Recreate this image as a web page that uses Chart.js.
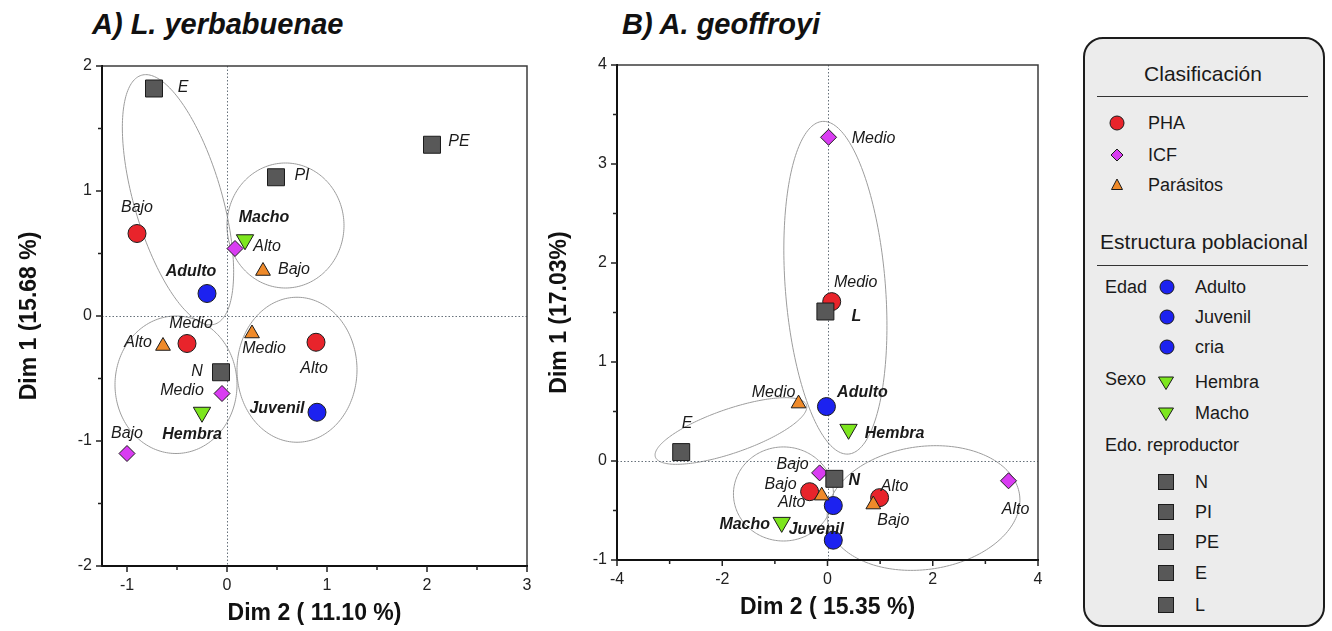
<!DOCTYPE html>
<html lang="es">
<head>
<meta charset="utf-8">
<title>ACM – L. yerbabuenae y A. geoffroyi</title>
<script src="https://cdn.jsdelivr.net/npm/chart.js@4.4.1/dist/chart.umd.min.js"></script>
<style>
  html, body { margin: 0; padding: 0; background: #fff; }
  #page { position: relative; width: 1332px; height: 631px; overflow: hidden;
          font-family: "Liberation Sans", Arial, sans-serif; color: #1a1a1a; }
  canvas { position: absolute; top: 0; }
  .abs { position: absolute; white-space: nowrap; line-height: 1; transform: translateY(-50%); }
  .panel-title { font-weight: bold; font-style: italic; font-size: 29px; color: #111; }
  #legend { position: absolute; left: 1083px; top: 37px; width: 242px; height: 590px;
            box-sizing: border-box; border: 2px solid #1c1c1c; border-radius: 20px; background: #ececec; }
  .lg { font-size: 18px; }
  .lh { font-size: 21px; transform: translate(-50%, -50%); }
  .rule { position: absolute; height: 0; border-top: 1.5px solid #333; }
  .mk { position: absolute; transform: translate(-50%, -50%); overflow: visible; }
</style>
</head>
<body>
<div id="page">
  <div class="abs panel-title" style="left:92px; top:24px;">A) L. yerbabuenae</div>
  <div class="abs panel-title" style="left:622px; top:24px;">B) A. geoffroyi</div>
  <canvas id="chartA" width="545" height="631" style="left:0px;"></canvas>
  <canvas id="chartB" width="520" height="631" style="left:545px;"></canvas>
  <div id="legend"></div>
</div>

<script>
const FONT = '"Liberation Sans", Arial, sans-serif';
const INK = '#1a1a1a';

// ---------- A) L. yerbabuenae : coordinates (Dim 2, Dim 1) ----------
const aPhaNames  = ['Bajo', 'Medio', 'Alto'];
const aPhaDim2   = [-0.90, -0.40, 0.89];
const aPhaDim1   = [0.66, -0.22, -0.21];
const aIcfNames  = ['Bajo', 'Medio', 'Alto'];
const aIcfDim2   = [-1.00, -0.05, 0.08];
const aIcfDim1   = [-1.10, -0.62, 0.54];
const aParNames  = ['Bajo', 'Medio', 'Alto'];
const aParDim2   = [0.36, 0.25, -0.64];
const aParDim1   = [0.36, -0.14, -0.24];
const aEdadNames = ['Adulto', 'Juvenil'];
const aEdadDim2  = [-0.20, 0.90];
const aEdadDim1  = [0.18, -0.77];
const aSexoNames = ['Hembra', 'Macho'];
const aSexoDim2  = [-0.25, 0.18];
const aSexoDim1  = [-0.77, 0.61];
const aRepNames  = ['N', 'PI', 'PE', 'E'];
const aRepDim2   = [-0.06, 0.49, 2.05, -0.73];
const aRepDim1   = [-0.45, 1.11, 1.37, 1.82];
// group ellipses: centre (Dim 2, Dim 1) and two semi-axis vectors
const aEllipses = [
  [-0.49, 0.93, -0.365, 0.996, 0.42, 0.10],
  [0.585, 0.724, 0.585, 0, 0, 0.50],
  [-0.51, -0.55, 0.61, 0, 0, 0.55],
  [0.70, -0.43, 0.60, 0, 0, 0.58]
];
const aTicksX = [-1, -0.5, 0, 0.5, 1, 1.5, 2, 2.5, 3];
const aTicksY = [-2, -1.5, -1, -0.5, 0, 0.5, 1, 1.5, 2];

// ---------- B) A. geoffroyi : coordinates (Dim 2, Dim 1) ----------
const bPhaNames  = ['Bajo', 'Medio', 'Alto'];
const bPhaDim2   = [-0.34, 0.08, 0.99];
const bPhaDim1   = [-0.31, 1.61, -0.37];
const bIcfNames  = ['Bajo', 'Medio', 'Alto'];
const bIcfDim2   = [-0.15, 0.02, 3.44];
const bIcfDim1   = [-0.12, 3.27, -0.20];
const bParNames  = ['Bajo', 'Medio', 'Alto'];
const bParDim2   = [0.87, -0.55, -0.11];
const bParDim1   = [-0.44, 0.58, -0.35];
const bEdadNames = ['Adulto', '', 'Juvenil'];
const bEdadDim2  = [-0.02, 0.11, 0.11];
const bEdadDim1  = [0.55, -0.45, -0.80];
const bSexoNames = ['Hembra', 'Macho'];
const bSexoDim2  = [0.40, -0.87];
const bSexoDim1  = [0.32, -0.62];
const bRepNames  = ['N', 'E', 'L'];
const bRepDim2   = [0.13, -2.78, -0.04];
const bRepDim1   = [-0.18, 0.09, 1.51];
const bEllipses = [
  [0.15, 1.75, -0.247, 1.68, 0.948, 0.039],
  [-1.835, 0.303, 1.435, 0.263, 0.137, -0.210],
  [-0.837, -0.333, 0.95, 0, 0, 0.475],
  [1.825, -0.475, 1.825, 0.131, 0.152, -0.616]
];
const bTicksX = [-4, -3, -2, -1, 0, 1, 2, 3, 4];
const bTicksY = [-1, -0.5, 0, 0.5, 1, 1.5, 2, 2.5, 3, 3.5, 4];

// ---------- label placement (pixel offsets from each marker) ----------
const aLabelPos = {
  pha:  [[0, -26], [4, -20], [-2, 26]],
  icf:  [[0, -20], [-40, -3], [32, -2]],
  par:  [[31, -1], [12, 15], [-25, -3]],
  edad: [[-16, -22], [-40, -4]],
  sexo: [[-10, 22], [19, -22]],
  rep:  [[-24, -1], [26, -2], [27, -3], [29, -1]]
};
const bLabelPos = {
  pha:  [[-29, -7], [24, -19], [15, -11]],
  icf:  [[-27, -8], [45, 1], [7, 29]],
  par:  [[20, 16], [-25, -11], [-30, 7]],
  edad: [[36, -14], [0, 0], [-17, -11]],
  sexo: [[46, 4], [-37, 2]],
  rep:  [[20, 2], [6, -29], [31, 5]]
};
const aRepBold = [false, false, false, false];
const bRepBold = [true, false, true];

// ---------- marker styles ----------
const STYLE = {
  pha:  { color: '#e8242b', shape: 'circle',   r: 9,  rot: 0,   order: 6, bold: false },
  edad: { color: '#1c22f0', shape: 'circle',   r: 9,  rot: 0,   order: 5, bold: true },
  sexo: { color: '#7de61e', shape: 'triangle', r: 10, rot: 180, order: 4, bold: true },
  icf:  { color: '#d93cf2', shape: 'rectRot',  r: 8,  rot: 0,   order: 3, bold: false },
  par:  { color: '#ef8a2a', shape: 'triangle', r: 8.5, rot: 0,  order: 2, bold: false },
  rep:  { color: '#585858', shape: 'rect',     r: 12, rot: 0,   order: 1, bold: false }
};

function series(key, names, dim2, dim1, pos, boldList) {
  const s = STYLE[key];
  return {
    label: key,
    data: dim2.map((v, i) => ({ x: v, y: dim1[i] })),
    pointStyle: s.shape,
    pointRadius: s.r,
    pointHoverRadius: s.r,
    pointRotation: s.rot,
    backgroundColor: s.color,
    borderColor: '#1b1b1b',
    borderWidth: 1,
    order: s.order,
    pointNames: names,
    namePos: pos,
    nameBold: boldList || names.map(() => s.bold)
  };
}

const decorPlugin = {
  id: 'panelDecor',
  beforeDatasetsDraw(chart, args, opts) {
    const { ctx, chartArea: ca, scales: { x, y } } = chart;
    ctx.save();
    // group ellipses
    ctx.strokeStyle = '#9c9c9c';
    ctx.lineWidth = 1;
    for (const e of opts.ellipses) {
      ctx.beginPath();
      for (let i = 0; i <= 200; i++) {
        const t = i / 200 * Math.PI * 2;
        const vx = e[0] + e[2] * Math.cos(t) + e[4] * Math.sin(t);
        const vy = e[1] + e[3] * Math.cos(t) + e[5] * Math.sin(t);
        const px = x.getPixelForValue(vx), py = y.getPixelForValue(vy);
        if (i === 0) ctx.moveTo(px, py); else ctx.lineTo(px, py);
      }
      ctx.closePath();
      ctx.stroke();
    }
    // dotted origin lines
    ctx.setLineDash([1.5, 2]);
    ctx.strokeStyle = '#66707a';
    ctx.lineWidth = 1;
    const x0 = Math.round(x.getPixelForValue(0)) + 0.5;
    const y0 = Math.round(y.getPixelForValue(0)) + 0.5;
    ctx.beginPath();
    ctx.moveTo(x0, ca.top); ctx.lineTo(x0, ca.bottom);
    ctx.moveTo(ca.left, y0); ctx.lineTo(ca.right, y0);
    ctx.stroke();
    ctx.setLineDash([]);
    // frame
    ctx.strokeStyle = '#3c3c3c';
    ctx.lineWidth = 1.5;
    ctx.beginPath();
    ctx.moveTo(ca.left, ca.top); ctx.lineTo(ca.right, ca.top); ctx.lineTo(ca.right, ca.bottom);
    ctx.stroke();
    ctx.strokeStyle = '#111';
    ctx.lineWidth = 2;
    ctx.beginPath();
    ctx.moveTo(ca.left, ca.top - 1); ctx.lineTo(ca.left, ca.bottom); ctx.lineTo(ca.right + 1, ca.bottom);
    ctx.stroke();
    // tick marks
    ctx.strokeStyle = '#222';
    ctx.lineWidth = 1.5;
    ctx.beginPath();
    for (const v of opts.ticksX) {
      const px = x.getPixelForValue(v);
      const len = opts.majorX(v) ? 6 : 4;
      ctx.moveTo(px, ca.bottom); ctx.lineTo(px, ca.bottom + len);
    }
    for (const v of opts.ticksY) {
      const py = y.getPixelForValue(v);
      const len = opts.majorY(v) ? 6 : 4;
      ctx.moveTo(ca.left, py); ctx.lineTo(ca.left - len, py);
    }
    ctx.stroke();
    ctx.restore();
  },
  afterDatasetsDraw(chart) {
    const ctx = chart.ctx;
    ctx.save();
    ctx.fillStyle = INK;
    ctx.textAlign = 'center';
    ctx.textBaseline = 'middle';
    chart.data.datasets.forEach((ds, di) => {
      const meta = chart.getDatasetMeta(di);
      meta.data.forEach((pt, i) => {
        const name = ds.pointNames[i];
        if (!name) return;
        const off = ds.namePos[i];
        ctx.font = 'italic ' + (ds.nameBold[i] ? 'bold ' : '') + '16px ' + FONT;
        ctx.fillText(name, pt.x + off[0], pt.y + off[1]);
      });
    });
    ctx.restore();
  }
};

function makePanel(canvasId, cfg) {
  const tickFont = { family: FONT, size: 16 };
  const titleFont = { family: FONT, size: 23, weight: 'bold' };
  return new Chart(document.getElementById(canvasId), {
    type: 'scatter',
    data: { datasets: cfg.datasets },
    plugins: [decorPlugin],
    options: {
      responsive: false,
      animation: false,
      devicePixelRatio: 1,
      layout: { padding: { left: 0, right: cfg.padRight, top: cfg.padTop, bottom: 0 } },
      plugins: {
        legend: { display: false },
        tooltip: { enabled: false },
        panelDecor: {
          ellipses: cfg.ellipses,
          ticksX: cfg.ticksX, ticksY: cfg.ticksY,
          majorX: cfg.majorX, majorY: cfg.majorY
        }
      },
      scales: {
        x: {
          type: 'linear', min: cfg.xMin, max: cfg.xMax,
          afterBuildTicks: s => { s.ticks = cfg.ticksX.map(v => ({ value: v })); },
          afterFit: s => { s.height = cfg.xAxisHeight; },
          grid: { display: false, drawTicks: false },
          border: { display: false },
          ticks: { padding: 10, color: '#222', font: tickFont, autoSkip: false, maxRotation: 0,
                   callback: v => cfg.majorX(v) ? String(v) : '' },
          title: { display: true, text: cfg.xTitle, color: '#111', font: titleFont,
                   padding: { top: 0, bottom: cfg.xTitlePad } }
        },
        y: {
          type: 'linear', min: cfg.yMin, max: cfg.yMax,
          afterBuildTicks: s => { s.ticks = cfg.ticksY.map(v => ({ value: v })); },
          afterFit: s => { s.width = cfg.yAxisWidth; },
          grid: { display: false, drawTicks: false },
          border: { display: false },
          ticks: { padding: 10, color: '#222', font: tickFont, autoSkip: false,
                   callback: v => cfg.majorY(v) ? String(v) : '' },
          title: { display: true, text: cfg.yTitle, color: '#111', font: titleFont,
                   padding: { top: cfg.yTitlePad, bottom: 0 } }
        }
      }
    }
  });
}

makePanel('chartA', {
  datasets: [
    series('pha', aPhaNames, aPhaDim2, aPhaDim1, aLabelPos.pha),
    series('edad', aEdadNames, aEdadDim2, aEdadDim1, aLabelPos.edad),
    series('sexo', aSexoNames, aSexoDim2, aSexoDim1, aLabelPos.sexo),
    series('icf', aIcfNames, aIcfDim2, aIcfDim1, aLabelPos.icf),
    series('par', aParNames, aParDim2, aParDim1, aLabelPos.par),
    series('rep', aRepNames, aRepDim2, aRepDim1, aLabelPos.rep, aRepBold)
  ],
  ellipses: aEllipses,
  ticksX: aTicksX, ticksY: aTicksY,
  majorX: v => Number.isInteger(v), majorY: v => Number.isInteger(v),
  xMin: -1.25, xMax: 3, yMin: -2, yMax: 2,
  xTitle: 'Dim 2 ( 11.10 %)', yTitle: 'Dim 1 (15.68 %)',
  padTop: 66, padRight: 18, xAxisHeight: 65, yAxisWidth: 102,
  xTitlePad: 4, yTitlePad: 16
});

makePanel('chartB', {
  datasets: [
    series('pha', bPhaNames, bPhaDim2, bPhaDim1, bLabelPos.pha),
    series('edad', bEdadNames, bEdadDim2, bEdadDim1, bLabelPos.edad),
    series('sexo', bSexoNames, bSexoDim2, bSexoDim1, bLabelPos.sexo),
    series('icf', bIcfNames, bIcfDim2, bIcfDim1, bLabelPos.icf),
    series('par', bParNames, bParDim2, bParDim1, bLabelPos.par),
    series('rep', bRepNames, bRepDim2, bRepDim1, bLabelPos.rep, bRepBold)
  ],
  ellipses: bEllipses,
  ticksX: bTicksX, ticksY: bTicksY,
  majorX: v => v % 2 === 0, majorY: v => Number.isInteger(v),
  xMin: -4, xMax: 4, yMin: -1, yMax: 4,
  xTitle: 'Dim 2 ( 15.35 %)', yTitle: 'Dim 1 (17.03%)',
  padTop: 65, padRight: 27, xAxisHeight: 71, yAxisWidth: 72,
  xTitlePad: 10, yTitlePad: 1
});

// ---------- legend ----------
const legendClasif = ['PHA', 'ICF', 'Parásitos'];
const legendEdad = ['Adulto', 'Juvenil', 'cria'];
const legendSexo = ['Hembra', 'Macho'];
const legendRep = ['N', 'PI', 'PE', 'E', 'L'];

const page = document.getElementById('page');
function addText(text, x, y, cls, extra) {
  const d = document.createElement('div');
  d.className = 'abs ' + cls;
  d.style.left = x + 'px';
  d.style.top = y + 'px';
  if (extra) d.style.cssText += extra;
  d.textContent = text;
  page.appendChild(d);
}
function addRule(x1, x2, y) {
  const d = document.createElement('div');
  d.className = 'rule';
  d.style.left = x1 + 'px';
  d.style.width = (x2 - x1) + 'px';
  d.style.top = y + 'px';
  page.appendChild(d);
}
function addMarker(key, x, y) {
  const s = STYLE[key];
  const NS = 'http://www.w3.org/2000/svg';
  const svg = document.createElementNS(NS, 'svg');
  svg.setAttribute('class', 'mk');
  svg.setAttribute('width', '20');
  svg.setAttribute('height', '20');
  svg.setAttribute('viewBox', '-10 -10 20 20');
  svg.style.left = x + 'px';
  svg.style.top = y + 'px';
  let el;
  if (s.shape === 'circle') {
    el = document.createElementNS(NS, 'circle');
    el.setAttribute('r', '7');
  } else if (s.shape === 'rect') {
    el = document.createElementNS(NS, 'rect');
    el.setAttribute('x', '-7.5'); el.setAttribute('y', '-7.5');
    el.setAttribute('width', '15'); el.setAttribute('height', '15');
  } else {
    el = document.createElementNS(NS, 'polygon');
    const pts = s.shape === 'rectRot' ? '0,-6 6,0 0,6 -6,0'
              : s.rot === 180 ? '-7.5,-5 7.5,-5 0,7.5' : '0,-6 5.5,4.5 -5.5,4.5';
    el.setAttribute('points', pts);
  }
  el.setAttribute('fill', s.color);
  el.setAttribute('stroke', '#1b1b1b');
  el.setAttribute('stroke-width', '1');
  svg.appendChild(el);
  page.appendChild(svg);
}

addText('Clasificación', 1203, 73, 'lh');
addRule(1097, 1308, 96);
const clasifKeys = ['pha', 'icf', 'par'];
const clasifRowY = [123, 155, 185];
legendClasif.forEach((t, i) => { addMarker(clasifKeys[i], 1117, clasifRowY[i]); addText(t, 1148, clasifRowY[i], 'lg'); });

addText('Estructura poblacional', 1204, 241, 'lh');
addRule(1097, 1308, 265);
addText('Edad', 1105, 287, 'lg');
const edadRowY = [287, 317, 347];
legendEdad.forEach((t, i) => { addMarker('edad', 1167, edadRowY[i]); addText(t, 1195, edadRowY[i], 'lg'); });
addText('Sexo', 1105, 379, 'lg');
const sexoRowY = [382, 413];
legendSexo.forEach((t, i) => { addMarker('sexo', 1166, sexoRowY[i]); addText(t, 1195, sexoRowY[i], 'lg'); });
addText('Edo. reproductor', 1105, 445, 'lg');
const repRowY = [482, 512, 542, 573, 605];
legendRep.forEach((t, i) => { addMarker('rep', 1166, repRowY[i]); addText(t, 1195, repRowY[i], 'lg'); });
</script>
</body>
</html>
